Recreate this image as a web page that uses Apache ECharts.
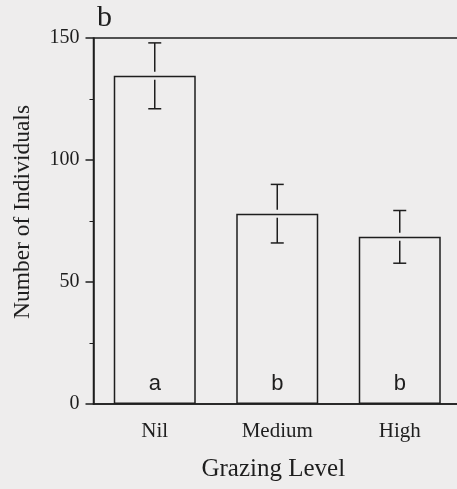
<!DOCTYPE html>
<html>
<head>
<meta charset="utf-8">
<script src="https://cdn.jsdelivr.net/npm/echarts@6/dist/echarts.min.js"></script>
<style>
  html, body { margin: 0; padding: 0; background: #eeeded; }
  #chart { width: 457px; height: 489px; }
</style>
</head>
<body>
<div id="chart"></div>
<script>
// Grazing level categories and mean counts with standard errors
const categories = ['Nil', 'Medium', 'High'];
const means = [134.5, 78, 68.5];
const errors = [13.5, 12, 10.8];
const sigLetters = ['a', 'b', 'b'];
const yTicks = [0, 50, 100, 150];

const serif = '"Liberation Serif", "DejaVu Serif", serif';
const ink = '#1e1e1e';

const chart = echarts.init(document.getElementById('chart'));

const errorData = categories.map((c, i) => [i, means[i] - errors[i], means[i] + errors[i], means[i]]);

chart.setOption({
  backgroundColor: '#eeeded',
  animation: false,
  title: {
    text: 'b',
    left: 92,
    top: -2,
    textStyle: { fontFamily: serif, fontSize: 30, fontWeight: 'normal', color: ink }
  },
  grid: {
    left: 93.5, right: -4, top: 38, bottom: 85,
    outerBoundsMode: 'none',
    containLabel: false,
    show: true, borderColor: ink, borderWidth: 1.5, backgroundColor: 'transparent'
  },
  xAxis: {
    type: 'category',
    data: categories,
    name: 'Grazing Level',
    nameLocation: 'middle',
    nameGap: 53,
    nameTextStyle: { fontFamily: serif, fontSize: 25, color: ink, padding: [0, 8, 0, 0] },
    axisLine: { lineStyle: { color: ink, width: 1.5 } },
    axisTick: { alignWithLabel: true, length: 8, lineStyle: { color: ink, width: 1.5 } },
    axisLabel: { fontFamily: serif, fontSize: 21, color: ink, margin: 17 },
    splitLine: { show: false }
  },
  yAxis: {
    type: 'value',
    min: 0, max: 150, interval: 50,
    name: 'Number of Individuals',
    nameLocation: 'middle',
    nameGap: 59,
    nameTextStyle: { fontFamily: serif, fontSize: 23.5, color: ink, padding: [0, 0, 0, 18] },
    axisLine: { show: true, lineStyle: { color: ink, width: 1.5 } },
    axisTick: { show: true, length: 8, lineStyle: { color: ink, width: 1.5 } },
    minorTick: { show: true, splitNumber: 2, length: 4, lineStyle: { color: ink, width: 1 } },
    axisLabel: {
      fontFamily: serif, fontSize: 20, color: ink, margin: 14,
      formatter: v => (yTicks.indexOf(v) >= 0 ? String(v) : '')
    },
    splitLine: { show: false }
  },
  series: [
    {
      type: 'bar',
      data: means,
      barWidth: 82,
      itemStyle: { color: 'transparent', borderColor: ink, borderWidth: 1.5 },
      label: {
        show: true,
        position: 'insideBottom',
        distance: 9,
        formatter: p => sigLetters[p.dataIndex],
        fontFamily: '"Liberation Sans", Arial, sans-serif',
        fontSize: 22,
        color: ink
      },
      z: 2
    },
    {
      type: 'custom',
      data: errorData,
      encode: { x: 0, y: [1, 2] },
      z: 3,
      renderItem: (params, api) => {
        const x = api.value(0);
        const lo = api.coord([x, api.value(1)]);
        const hi = api.coord([x, api.value(2)]);
        const mid = api.coord([x, api.value(3)]);
        const cap = 6.5;
        const gap = 4;
        const style = { stroke: ink, lineWidth: 1.5, fill: null };
        return {
          type: 'group',
          children: [
            { type: 'line', shape: { x1: hi[0], y1: hi[1], x2: hi[0], y2: mid[1] - gap }, style },
            { type: 'line', shape: { x1: lo[0], y1: mid[1] + gap, x2: lo[0], y2: lo[1] }, style },
            { type: 'line', shape: { x1: lo[0] - cap, y1: lo[1], x2: lo[0] + cap, y2: lo[1] }, style },
            { type: 'line', shape: { x1: hi[0] - cap, y1: hi[1], x2: hi[0] + cap, y2: hi[1] }, style }
          ]
        };
      }
    }
  ]
});
</script>
</body>
</html>
